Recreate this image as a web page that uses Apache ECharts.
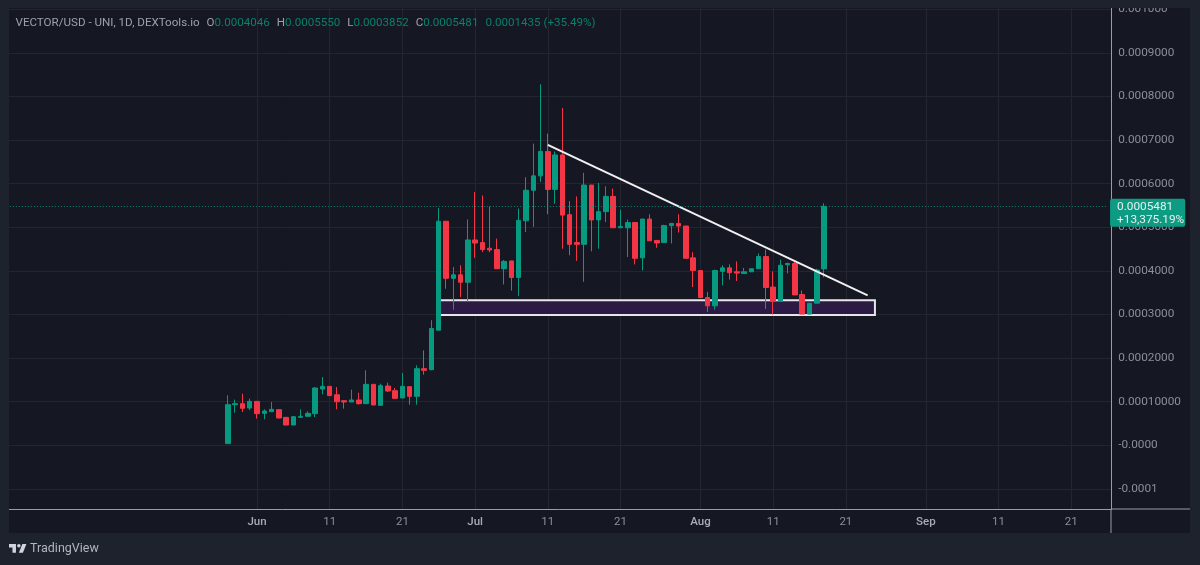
<!DOCTYPE html>
<html>
<head>
<meta charset="utf-8">
<title>VECTOR/USD</title>
<script src="https://cdn.jsdelivr.net/npm/echarts@6/dist/echarts.min.js"></script>
<style>
	html, body { margin: 0; padding: 0; background: #1e222d; }
	#chart { width: 1200px; height: 565px; }
</style>
</head>
<body>
<div id="chart"></div>
<script>
// 日K数据, first candle is 05-28, last is 08-18
var opens = [
	0.0000040, 0.0000933, 0.0000956, 0.0000856, 0.0001009, 0.0000734, 0.0000772, 0.0000818, 0.0000642, 0.0000466,
	0.0000642, 0.0000665, 0.0000726, 0.0001292, 0.0001353, 0.0001160, 0.0001024, 0.0000994, 0.0001040, 0.0000956,
	0.0001399, 0.0000917, 0.0001361, 0.0001254, 0.0001086, 0.0001346, 0.0001124, 0.0001758, 0.0001735, 0.000264,
	0.000514, 0.000383, 0.000391, 0.000374, 0.000471, 0.000465, 0.000452, 0.000449, 0.000405, 0.000423,
	0.000385, 0.000515, 0.000585, 0.000618, 0.000674, 0.000587, 0.000666, 0.000529, 0.000465, 0.000461,
	0.000597, 0.000517, 0.000536, 0.000571, 0.000499, 0.000499, 0.000511, 0.000430, 0.000519, 0.000470,
	0.000465, 0.000504, 0.000509, 0.000503, 0.000430, 0.000401, 0.000339, 0.000320, 0.000399, 0.000407,
	0.000398, 0.000394, 0.000398, 0.000405, 0.000433, 0.000363, 0.000330, 0.000414, 0.000417, 0.000346,
	0.000301, 0.000326, 0.0004046
];
var closes = [
	0.0000933, 0.0000956, 0.0000849, 0.0001009, 0.0000726, 0.0000787, 0.0000826, 0.0000627, 0.0000466, 0.0000657,
	0.0000665, 0.0000734, 0.0001315, 0.0001353, 0.0001140, 0.0001000, 0.0000994, 0.0001040, 0.0000956, 0.0001399,
	0.0000925, 0.0001368, 0.0001246, 0.0001078, 0.0001353, 0.0001124, 0.0001758, 0.0001720, 0.000268, 0.000514,
	0.000383, 0.000391, 0.000374, 0.000471, 0.000464, 0.000449, 0.000448, 0.000405, 0.000422, 0.000385,
	0.000516, 0.000585, 0.000618, 0.000674, 0.000587, 0.000666, 0.000528, 0.000461, 0.000461, 0.000597,
	0.000517, 0.000536, 0.000571, 0.000499, 0.000502, 0.000511, 0.000429, 0.000519, 0.000469, 0.000464,
	0.000504, 0.000509, 0.000503, 0.000429, 0.000401, 0.000339, 0.000320, 0.000401, 0.000407, 0.000396,
	0.000395, 0.000398, 0.000405, 0.000433, 0.000362, 0.000330, 0.000413, 0.000417, 0.000345, 0.000301,
	0.000326, 0.000402, 0.0005481
];
var lows = [
	0.0000040, 0.0000749, 0.0000765, 0.0000803, 0.0000612, 0.0000596, 0.0000772, 0.0000620, 0.0000466, 0.0000466,
	0.0000635, 0.0000665, 0.0000650, 0.0001170, 0.0001140, 0.0000826, 0.0000841, 0.0000994, 0.0000933, 0.0000956,
	0.0000925, 0.0000917, 0.0001223, 0.0001078, 0.0001086, 0.0000933, 0.0000933, 0.0001621, 0.0001720, 0.000264,
	0.000359, 0.000311, 0.000340, 0.000329, 0.000430, 0.000443, 0.000443, 0.000405, 0.000369, 0.000355,
	0.000342, 0.000489, 0.000501, 0.000604, 0.000530, 0.000554, 0.000451, 0.000436, 0.000423, 0.000375,
	0.000445, 0.000451, 0.000512, 0.000499, 0.000499, 0.000432, 0.000415, 0.000401, 0.000469, 0.000453,
	0.000465, 0.000463, 0.000488, 0.000429, 0.000363, 0.000339, 0.000306, 0.000311, 0.000367, 0.000380,
	0.000377, 0.000394, 0.000398, 0.000405, 0.000313, 0.000300, 0.000330, 0.000394, 0.000345, 0.000301,
	0.000301, 0.000326, 0.0003852
];
var highs = [
	0.0001147, 0.0001047, 0.0001185, 0.0001070, 0.0001017, 0.0000826, 0.0000994, 0.0000826, 0.0000650, 0.0000665,
	0.0000826, 0.0000780, 0.0001338, 0.0001567, 0.0001361, 0.0001338, 0.0001030, 0.0001277, 0.0001208, 0.0001720,
	0.0001399, 0.0001414, 0.0001437, 0.0001315, 0.0001659, 0.0001346, 0.0001835, 0.0002179, 0.000287, 0.000544,
	0.000514, 0.000409, 0.000413, 0.000518, 0.000581, 0.000573, 0.000548, 0.000474, 0.000425, 0.000423,
	0.000543, 0.000615, 0.000692, 0.000828, 0.000715, 0.000674, 0.000774, 0.000560, 0.000571, 0.000625,
	0.000597, 0.000602, 0.000594, 0.000589, 0.000540, 0.000518, 0.000511, 0.000519, 0.000530, 0.000470,
	0.000506, 0.000510, 0.000530, 0.000503, 0.000443, 0.000401, 0.000352, 0.000403, 0.000413, 0.000415,
	0.000422, 0.000407, 0.000405, 0.000440, 0.000449, 0.000399, 0.000426, 0.000419, 0.000423, 0.000355,
	0.000326, 0.000405, 0.000555
];
var firstCandleDate = '05-28';

// 坐标轴刻度
var priceTicks = [-0.0001, 0, 0.0001, 0.0002, 0.0003, 0.0004, 0.0005, 0.0006, 0.0007, 0.0008, 0.0009, 0.001];
var priceLabels = ['-0.0001', '-0.0000', '0.00010000', '0.0002000', '0.0003000', '0.0004000', '0.0005000', '0.0006000', '0.0007000', '0.0008000', '0.0009000', '0.001000'];
var dateTicks = ['06-01', '06-11', '06-21', '07-01', '07-11', '07-21', '08-01', '08-11', '08-21', '09-01', '09-11', '09-21'];
var dateLabels = ['Jun', '11', '21', 'Jul', '11', '21', 'Aug', '11', '21', 'Sep', '11', '21'];

// 画线
var trendStart = ['07-11', 0.000689];
var trendEnd = ['08-24', 0.000344];
var zoneStart = ['06-26', 0.000333];
var zoneEnd = ['08-25', 0.000299];
var lastPrice = 0.0005481;
var lastPriceText = '0.0005481\n+13,375.19%';

var monthDays = [['04', 28, 30], ['05', 1, 31], ['06', 1, 30], ['07', 1, 31], ['08', 1, 31], ['09', 1, 26]];

var upColor = '#089981';
var downColor = '#f23645';
var outerColor = '#1e222d';
var panelColor = '#151722';
var gridColor = '#23262f';
var axisLineColor = '#9a9da6';
var textColor = '#8b8e98';

function pad(n) {
	return n < 10 ? '0' + n : '' + n;
}

function buildCategories() {
	var result = [];
	monthDays.forEach(function (m) {
		for (var d = m[1]; d <= m[2]; d++) {
			result.push(m[0] + '-' + pad(d));
		}
	});
	return result;
}

function buildCandles(categories) {
	var result = [];
	var first = categories.indexOf(firstCandleDate);
	for (var i = 0; i < first; i++) {
		result.push(['-', '-', '-', '-']);
	}
	opens.forEach(function (o, i) {
		result.push([o, closes[i], lows[i], highs[i]]);
	});
	return result;
}

var categories = buildCategories();
var chart = echarts.init(document.getElementById('chart'));

function isDateTick(index, value) {
	return dateTicks.indexOf(value) >= 0;
}

var option = {
	animation: false,
	backgroundColor: 'transparent',
	textStyle: { fontFamily: 'Roboto' },
	title: {
		left: 10.5,
		top: 12,
		text: '{n|VECTOR/USD - UNI, 1D, DEXTools.io}{g| }{n|O}{v|0.0004046}{g| }{n|H}{v|0.0005550}{g| }{n|L}{v|0.0003852}{g| }{n|C}{v|0.0005481}{g| }{v|0.0001435 (+35.49%)}',
		textStyle: {
			fontWeight: 'normal',
			rich: {
				n: { color: '#9da0a9', fontSize: 11.6, fontWeight: 'normal', fontFamily: 'Roboto' },
				v: { color: '#0b7f6d', fontSize: 11.6, fontWeight: 'normal', fontFamily: 'Roboto' },
				g: { width: 7, fontSize: 11.6 }
			}
		}
	},
	grid: {
		left: 6.2,
		top: 8,
		width: 1105,
		height: 501
	},
	xAxis: {
		type: 'category',
		data: categories,
		boundaryGap: true,
		axisLine: { show: true, onZero: false, lineStyle: { color: axisLineColor, width: 1 } },
		axisTick: { show: false },
		axisLabel: {
			interval: isDateTick,
			margin: 7,
			fontSize: 11.5,
			color: textColor,
			formatter: function (value) {
				var label = dateLabels[dateTicks.indexOf(value)];
				return /^[A-Z]/.test(label) ? '{m|' + label + '}' : label;
			},
			rich: {
				m: { color: '#a9acb5', fontSize: 11.5, fontWeight: 500, fontFamily: 'Roboto' }
			}
		},
		splitLine: {
			show: true,
			interval: isDateTick,
			alignWithLabel: true,
			lineStyle: { color: gridColor, width: 1 }
		}
	},
	yAxis: {
		type: 'value',
		position: 'right',
		min: -0.000146,
		max: 0.001003,
		axisLine: { show: true, onZero: false, lineStyle: { color: axisLineColor, width: 1 } },
		axisTick: { show: false, customValues: priceTicks },
		axisLabel: {
			customValues: priceTicks,
			margin: 7,
			padding: [3, 0, 0, 0],
			fontSize: 11.8,
			color: textColor,
			formatter: function (value) {
				for (var i = 0; i < priceTicks.length; i++) {
					if (Math.abs(priceTicks[i] - value) < 1e-9) {
						return priceLabels[i];
					}
				}
				return '';
			}
		},
		splitLine: { show: true, lineStyle: { color: gridColor, width: 1 } }
	},
	series: [{
		name: '日K',
		type: 'candlestick',
		barWidth: 5,
		data: buildCandles(categories),
		itemStyle: {
			color: upColor,
			color0: downColor,
			borderColor: upColor,
			borderColor0: downColor,
			borderWidth: 1
		},
		markArea: {
			silent: true,
			z: 1,
			itemStyle: {
				color: '#2b1a44',
				borderColor: '#e6e6ea',
				borderWidth: 2
			},
			data: [[
				{ coord: zoneStart },
				{ coord: zoneEnd }
			]]
		},
		markLine: {
			silent: true,
			symbol: 'none',
			animation: false,
			data: [
				[
					{ coord: trendStart, lineStyle: { color: '#f0f0f2', width: 2, type: 'solid' }, label: { show: false } },
					{ coord: trendEnd }
				],
				[
					{
						coord: [categories[0], lastPrice],
						lineStyle: { color: upColor, width: 1, type: [1, 2], opacity: 0.85 },
						label: { show: false }
					},
					{ coord: [categories[categories.length - 1], lastPrice] }
				]
			]
		},
		// 最新价标签
		markPoint: {
			silent: true,
			animation: false,
			symbol: 'rect',
			symbolSize: 1,
			itemStyle: { color: 'transparent' },
			data: [{
				coord: [categories[categories.length - 1], lastPrice],
				label: {
					show: true,
					position: [3, -7],
					formatter: lastPriceText,
					backgroundColor: '#0d9b83',
					color: '#e4f3f0',
					fontSize: 11.8,
					lineHeight: 13.5,
					fontFamily: 'Roboto',
					padding: [1, 1, 0, 7],
					borderRadius: 2,
					align: 'left',
					verticalAlign: 'top'
				}
			}]
		}
	}],
	graphic: [
		{ type: 'rect', z: -10, silent: true, shape: { x: 9, y: 8, width: 1181, height: 525 }, style: { fill: panelColor } },
		// 盖住面板外的网格线
		{ type: 'rect', z: 100, silent: true, shape: { x: 0, y: 0, width: 9, height: 565 }, style: { fill: outerColor } },
		{ type: 'rect', z: 100, silent: true, shape: { x: 0, y: 0, width: 1200, height: 8 }, style: { fill: outerColor } },
		// 坐标轴线延伸
		{ type: 'line', z: 50, silent: true, shape: { x1: 1111, y1: 509, x2: 1111, y2: 533 }, style: { stroke: axisLineColor, lineWidth: 1 } },
		{ type: 'line', z: 50, silent: true, shape: { x1: 1111, y1: 509, x2: 1190, y2: 509 }, style: { stroke: axisLineColor, lineWidth: 1 } },
		// TradingView logo
		{
			type: 'group', z: 100, silent: true, x: 7.84, y: 540.5, scaleX: 0.58, scaleY: 0.58,
			children: [
				{ type: 'polygon', shape: { points: [[2, 6], [14, 6], [14, 21], [8, 21], [8, 12], [2, 12]] }, style: { fill: '#d1d4dc' } },
				{ type: 'circle', shape: { cx: 19, cy: 9, r: 3 }, style: { fill: '#d1d4dc' } },
				{ type: 'polygon', shape: { points: [[26, 21], [19, 21], [25, 6], [32, 6]] }, style: { fill: '#d1d4dc' } }
			]
		},
		{ type: 'text', z: 100, silent: true, x: 30, y: 542, style: { text: 'TradingView', fill: '#b2b5be', fontSize: 12.5, fontFamily: 'Roboto' } }
	]
};

chart.setOption(option);
</script>
</body>
</html>
